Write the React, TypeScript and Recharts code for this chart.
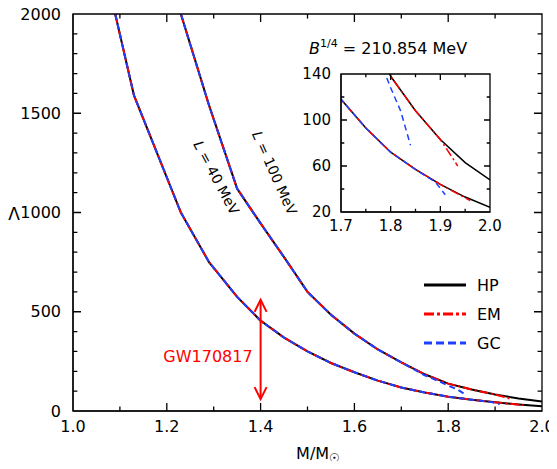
import { LineChart, Line, XAxis, YAxis, ReferenceLine } from "recharts";

const lowHP = [[1.09, 2000], [1.13, 1590], [1.23, 1000], [1.29, 750], [1.35, 575], [1.4, 455], [1.45, 370], [1.5, 300], [1.55, 242], [1.6, 195], [1.65, 153], [1.7, 118], [1.75, 93], [1.8, 72], [1.85, 57], [1.9, 44], [1.95, 33], [2.0, 24]];
const lowEM = [[1.09, 2000], [1.13, 1590], [1.23, 1000], [1.29, 750], [1.35, 575], [1.4, 455], [1.45, 370], [1.5, 300], [1.55, 242], [1.6, 195], [1.65, 153], [1.7, 118], [1.75, 93], [1.8, 72], [1.85, 57], [1.9, 44], [1.96, 30]];
const lowGC = [[1.09, 2000], [1.13, 1590], [1.23, 1000], [1.29, 750], [1.35, 575], [1.4, 455], [1.45, 370], [1.5, 300], [1.55, 242], [1.6, 195], [1.65, 153], [1.7, 118], [1.75, 93], [1.8, 72], [1.85, 57], [1.89, 46], [1.91, 35]];
const upHP = [[1.23, 2000], [1.29, 1540], [1.35, 1120], [1.4, 945], [1.45, 775], [1.5, 600], [1.55, 485], [1.6, 390], [1.65, 310], [1.7, 245], [1.75, 185], [1.8, 138], [1.85, 108], [1.9, 83], [1.95, 63], [2.0, 48]];
const upEM = [[1.23, 2000], [1.29, 1540], [1.35, 1120], [1.4, 945], [1.45, 775], [1.5, 600], [1.55, 485], [1.6, 390], [1.65, 310], [1.7, 245], [1.75, 185], [1.8, 138], [1.85, 108], [1.9, 83], [1.92, 70], [1.935, 60]];
const upGC = [[1.23, 2000], [1.29, 1540], [1.35, 1120], [1.4, 945], [1.45, 775], [1.5, 600], [1.55, 485], [1.6, 390], [1.65, 310], [1.7, 245], [1.75, 180], [1.78, 150], [1.8, 128], [1.82, 108], [1.84, 78]];

const xMajor = [1.0, 1.2, 1.4, 1.6, 1.8, 2.0];
const xMinor = [1.1, 1.3, 1.5, 1.7, 1.9];
const yMajor = [0, 500, 1000, 1500, 2000];
const yMinor = [100, 200, 300, 400, 600, 700, 800, 900, 1100, 1200, 1300, 1400, 1600, 1700, 1800, 1900];
const inXMajor = [1.7, 1.8, 1.9, 2.0];
const inXMinor = [1.75, 1.85, 1.95];
const inYMajor = [20, 60, 100, 140];
const inYMinor = [40, 80, 120];

const toPts = (a: number[][]) => a.map(([x, y]) => ({ x, y }));
const FONT = "DejaVu Sans, sans-serif";

const series = [
  { d: lowHP, c: "#000", dash: undefined },
  { d: upHP, c: "#000", dash: undefined },
  { d: lowEM, c: "#f00", dash: "9 3 2 3" },
  { d: upEM, c: "#f00", dash: "9 3 2 3" },
  { d: lowGC, c: "#1f3fff", dash: "6 4" },
  { d: upGC, c: "#1f3fff", dash: "6 4" },
];

function Arrow(p: any) {
  const x = p.x1, y1 = Math.min(p.y1, p.y2), y2 = Math.max(p.y1, p.y2);
  return (
    <g stroke="#f00" strokeWidth={2} fill="none">
      <line x1={x} x2={x} y1={y1} y2={y2} />
      <polyline points={`${x - 6},${y1 + 12} ${x},${y1} ${x + 6},${y1 + 12}`} />
      <polyline points={`${x - 6},${y2 - 12} ${x},${y2} ${x + 6},${y2 - 12}`} />
    </g>
  );
}

const ax = { stroke: "#000", strokeWidth: 1.2 };
const tk = (fs: number) => ({ fill: "#000", fontSize: fs, fontFamily: FONT });

// box frame with inward ticks; builds one path string from the axis domains
function framePath(L: number, R: number, T: number, B: number, xd: number[], yd: number[], xMa: number[], xMi: number[], yMa: number[], yMi: number[], len: number) {
  const sx = (v: number) => L + ((v - xd[0]) / (xd[1] - xd[0])) * (R - L);
  const sy = (v: number) => B - ((v - yd[0]) / (yd[1] - yd[0])) * (B - T);
  let d = `M${L},${T}H${R}V${B}H${L}Z`;
  const xt = (v: number, l: number) => { d += `M${sx(v)},${B}v${-l}M${sx(v)},${T}v${l}`; };
  const yt = (v: number, l: number) => { d += `M${L},${sy(v)}h${l}M${R},${sy(v)}h${-l}`; };
  xMa.forEach((v) => xt(v, len));
  xMi.forEach((v) => xt(v, len * 0.55));
  yMa.forEach((v) => yt(v, len));
  yMi.forEach((v) => yt(v, len * 0.55));
  return d;
}

export default function App() {
  const mainFrame = framePath(73, 542, 14, 411, [1, 2], [0, 2000], xMajor, xMinor, yMajor, yMinor, 8);
  const inFrame = framePath(341, 490, 74, 212, [1.7, 2.0], [20, 140], inXMajor, inXMinor, inYMajor, inYMinor, 6);
  return (
    <div style={{ position: "relative", width: 557, height: 469, margin: -8, fontFamily: FONT, background: "#fff" }}>
      <LineChart width={557} height={469} margin={{ top: 14, right: 15, bottom: 28, left: 12 }}>
        <XAxis type="number" dataKey="x" domain={[1, 2]} ticks={xMajor} axisLine={ax} tickLine={false} tickMargin={4} height={30} tick={tk(16)} tickFormatter={(v) => v.toFixed(1)} interval={0} allowDataOverflow />
        <YAxis type="number" domain={[0, 2000]} ticks={yMajor} axisLine={ax} tickLine={false} tickMargin={6} width={61} tick={tk(16)} interval={0} allowDataOverflow />
        {series.map((s, i) => (
          <Line key={i} data={toPts(s.d)} dataKey="y" type="linear" stroke={s.c} strokeDasharray={s.dash} strokeWidth={2} dot={false} isAnimationActive={false} />
        ))}
        <ReferenceLine segment={[{ x: 1.4, y: 60 }, { x: 1.4, y: 560 }]} shape={Arrow} />
      </LineChart>

      <div style={{ position: "absolute", left: 298, top: 64 }}>
        <LineChart width={214} height={175} margin={{ top: 10, right: 22, bottom: 0, left: 0 }}>
          <XAxis type="number" dataKey="x" domain={[1.7, 2.0]} ticks={inXMajor} axisLine={ax} tickLine={false} tickMargin={2} height={27} tick={tk(15)} tickFormatter={(v) => v.toFixed(1)} interval={0} allowDataOverflow />
          <YAxis type="number" domain={[20, 140]} ticks={inYMajor} axisLine={ax} tickLine={false} tickMargin={4} width={43} tick={tk(15)} interval={0} allowDataOverflow />
          {series.map((s, i) => (
            <Line key={i} data={toPts(s.d)} dataKey="y" type="linear" stroke={s.c} strokeDasharray={s.dash} strokeWidth={1.5} dot={false} isAnimationActive={false} />
          ))}
        </LineChart>
      </div>

      <svg width={557} height={469} style={{ position: "absolute", left: 0, top: 0, pointerEvents: "none" }} fontFamily={FONT}>
        <path d={mainFrame} stroke="#000" strokeWidth={1.3} fill="none" />
        <path d={inFrame} stroke="#000" strokeWidth={1.3} fill="none" />
        <text x={14} y={220} fontSize={17} textAnchor="middle">Λ</text>
        <text x={318} y={459} fontSize={16} textAnchor="middle">M/M<tspan fontSize={12} dy={3}>☉</tspan></text>
        <text x={309} y={54} fontSize={16}>
          <tspan fontStyle="italic">B</tspan><tspan fontSize={11} dy={-7}>1/4</tspan><tspan dy={7}> = 210.854 MeV</tspan>
        </text>
        <text transform="translate(212,180) rotate(62)" fontSize={14} textAnchor="middle"><tspan fontStyle="italic">L</tspan> = 40 MeV</text>
        <text transform="translate(270,175) rotate(66)" fontSize={14} textAnchor="middle"><tspan fontStyle="italic">L</tspan> = 100 MeV</text>
        <text x={208} y={362} fontSize={16} fill="#f00" textAnchor="middle">GW170817</text>
        <line x1={424} x2={466} y1={285} y2={285} stroke="#000" strokeWidth={3} />
        <text x={477} y={291} fontSize={16}>HP</text>
        <line x1={424} x2={466} y1={314} y2={314} stroke="#f00" strokeWidth={3} strokeDasharray="10 3 3 3" />
        <text x={477} y={320} fontSize={16}>EM</text>
        <line x1={424} x2={466} y1={343} y2={343} stroke="#1f3fff" strokeWidth={3} strokeDasharray="8 4" />
        <text x={477} y={349} fontSize={16}>GC</text>
      </svg>
    </div>
  );
}
